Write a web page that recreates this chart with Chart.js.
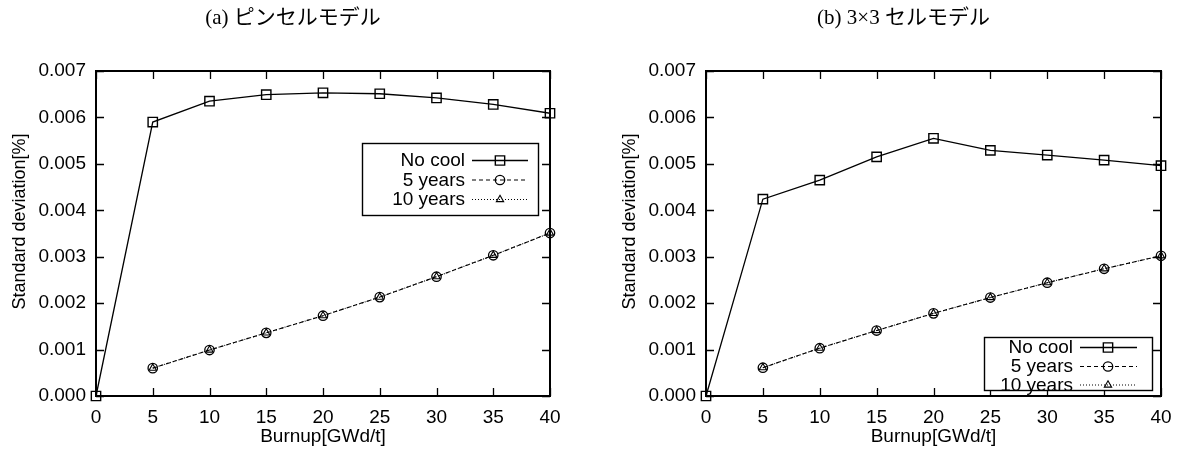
<!DOCTYPE html>
<html><head><meta charset="utf-8">
<script src="https://cdn.jsdelivr.net/npm/chart.js@4/dist/chart.umd.min.js"></script>
<style>
html,body{margin:0;padding:0;background:#fff;}
#wrap{position:relative;width:1185px;height:450px;overflow:hidden;}
.c{position:absolute;top:0;height:450px;}
canvas{display:block;}
</style></head><body>
<div id="wrap">
<div class="c" style="left:0;width:592px"><canvas id="ca" width="592" height="450"></canvas></div>
<div class="c" style="left:592px;width:593px"><canvas id="cb" width="593" height="450"></canvas></div>
</div>
<script>
// ---- data ----
const burnup = [0, 5, 10, 15, 20, 25, 30, 35, 40];
const xTicks = [0, 5, 10, 15, 20, 25, 30, 35, 40];
const yTicks = [0, 0.001, 0.002, 0.003, 0.004, 0.005, 0.006, 0.007];
const seriesNames = ['No cool', '5 years', '10 years'];
const titleA = '(a) ピンセルモデル';
const titleB = '(b) 3×3 セルモデル';
const xTitle = 'Burnup[GWd/t]';
const yTitle = 'Standard deviation[%]';

const pinNoCool = [0, 0.00590, 0.00635, 0.00649, 0.00653, 0.00651, 0.00642, 0.00628, 0.00609];
const pin5y     = [null, 0.00060, 0.00099, 0.00136, 0.00173, 0.00213, 0.00257, 0.00303, 0.00351];
const pin10y    = [null, 0.00060, 0.00099, 0.00136, 0.00173, 0.00213, 0.00257, 0.00303, 0.00351];

const cellNoCool = [0, 0.00424, 0.00465, 0.00515, 0.00555, 0.00529, 0.00519, 0.00508, 0.00496];
const cell5y     = [null, 0.00061, 0.00103, 0.00141, 0.00178, 0.00212, 0.00244, 0.00274, 0.00302];
const cell10y    = [null, 0.00061, 0.00103, 0.00141, 0.00178, 0.00212, 0.00244, 0.00274, 0.00302];

// ---- helpers ----
const SANS = "'Liberation Sans', Arial, sans-serif";
function pts(arr) {
  const out = [];
  burnup.forEach((x, i) => { if (arr[i] !== null && arr[i] !== undefined) out.push({x: x, y: arr[i]}); });
  return out;
}
function makeDatasets(a, b, c) {
  return [
    {label: seriesNames[0], data: pts(a), borderColor: '#000', borderWidth: 1.3, borderDash: [],
     pointStyle: 'rect', pointRadius: 6.6, pointBorderWidth: 1.4, pointBorderColor: '#000',
     pointBackgroundColor: 'rgba(0,0,0,0)', tension: 0, clip: false},
    {label: seriesNames[1], data: pts(b), borderColor: '#000', borderWidth: 1.1, borderDash: [4, 3],
     pointStyle: 'circle', pointRadius: 4.7, pointBorderWidth: 1.3, pointBorderColor: '#000',
     pointBackgroundColor: 'rgba(0,0,0,0)', tension: 0, clip: false},
    {label: seriesNames[2], data: pts(c), borderColor: '#000', borderWidth: 1.1, borderDash: [1, 2],
     pointStyle: 'triangle', pointRadius: 4.2, pointBorderWidth: 1.1, pointBorderColor: '#000',
     pointBackgroundColor: 'rgba(0,0,0,0)', tension: 0, clip: false}
  ];
}

const frameTicks = {
  id: 'frameTicks',
  beforeDatasetsDraw(chart) {
    const {ctx, chartArea: a, scales: {x, y}} = chart;
    ctx.save();
    ctx.strokeStyle = '#000';
    ctx.setLineDash([]);
    ctx.lineWidth = 1.3;
    ctx.beginPath();
    xTicks.forEach(v => {
      const px = Math.round(x.getPixelForValue(v)) + 0.5;
      ctx.moveTo(px, a.bottom); ctx.lineTo(px, a.bottom - 8);
      ctx.moveTo(px, a.top); ctx.lineTo(px, a.top + 8);
    });
    yTicks.forEach(v => {
      const py = Math.round(y.getPixelForValue(v)) + 0.5;
      ctx.moveTo(a.left, py); ctx.lineTo(a.left + 8, py);
      ctx.moveTo(a.right, py); ctx.lineTo(a.right - 8, py);
    });
    ctx.stroke();
    ctx.lineWidth = 2;
    ctx.strokeRect(a.left, a.top, a.right - a.left, a.bottom - a.top);
    ctx.restore();
  }
};

const panelTitle = {
  id: 'panelTitle',
  afterDraw(chart, args, opts) {
    const {ctx, chartArea: a, scales: {y}} = chart;
    ctx.save();
    ctx.fillStyle = '#000';
    ctx.font = "21px 'Liberation Serif', 'Noto Sans CJK JP', serif";
    ctx.textAlign = 'center';
    ctx.textBaseline = 'middle';
    ctx.fillText(opts.text, (a.left + a.right) / 2 + opts.dx, opts.y);
    // y-axis title, slightly above centre as in the original
    ctx.font = '18px ' + SANS;
    ctx.translate(y.left + opts.yTitleX, (a.top + a.bottom) / 2 + opts.yTitleDy);
    ctx.rotate(-Math.PI / 2);
    ctx.fillText(yTitle, 0, 0);
    ctx.restore();
  }
};

const boxLegend = {
  id: 'boxLegend',
  afterDraw(chart, args, o) {
    const {ctx, chartArea: a} = chart;
    const left = a.right - o.right - o.w;
    const top = o.fromBottom ? a.bottom - o.bottom - o.h : a.top + o.top;
    ctx.save();
    ctx.fillStyle = '#fff';
    ctx.fillRect(left, top, o.w, o.h);
    ctx.strokeStyle = '#000';
    ctx.lineWidth = 1.4;
    ctx.setLineDash([]);
    ctx.strokeRect(left + 0.5, top + 0.5, o.w, o.h);
    ctx.font = '19px ' + SANS;
    ctx.textAlign = 'right';
    ctx.textBaseline = 'middle';
    chart.data.datasets.forEach((ds, i) => {
      const cy = top + o.rows[i];
      ctx.fillStyle = '#000';
      ctx.fillText(ds.label, left + o.textRight, cy + 1);
      ctx.beginPath();
      ctx.setLineDash(ds.borderDash);
      ctx.lineWidth = ds.borderWidth;
      ctx.moveTo(left + o.lineFrom, cy + 0.5);
      ctx.lineTo(left + o.lineTo, cy + 0.5);
      ctx.stroke();
      ctx.setLineDash([]);
      ctx.fillStyle = 'rgba(0,0,0,0)';
      ctx.lineWidth = ds.pointBorderWidth;
      Chart.helpers.drawPoint(ctx, {pointStyle: ds.pointStyle, radius: ds.pointRadius, rotation: 0,
        borderWidth: ds.pointBorderWidth}, left + o.marker, cy + 0.5);
    });
    ctx.restore();
  }
};

function makeChart(id, title, a, b, c, padLeft, padRight, legendOpts) {
  return new Chart(document.getElementById(id), {
    type: 'line',
    data: {datasets: makeDatasets(a, b, c)},
    options: {
      responsive: false,
      animation: false,
      layout: {padding: {left: padLeft, right: padRight, top: 71, bottom: 0}},
      plugins: {
        legend: {display: false},
        tooltip: {enabled: false},
        title: {display: false},
        panelTitle: {text: title, dx: -30, y: 18, yTitleX: 20, yTitleDy: -12},
        boxLegend: legendOpts
      },
      scales: {
        x: {
          type: 'linear', min: 0, max: 40,
          grid: {display: false},
          border: {display: false},
          afterFit: s => { s.height = 54; },
          afterBuildTicks: s => { s.ticks = xTicks.map(v => ({value: v})); },
          ticks: {color: '#000', padding: 2, font: {size: 19, family: SANS}, maxRotation: 0,
                  callback: v => String(v)},
          title: {display: true, text: xTitle, color: '#000', font: {size: 19, family: SANS},
                  padding: {top: 0, bottom: 2}}
        },
        y: {
          type: 'linear', min: 0, max: 0.007,
          grid: {display: false},
          border: {display: false},
          afterFit: s => { s.width = 96; },
          afterBuildTicks: s => { s.ticks = yTicks.map(v => ({value: v})); },
          ticks: {color: '#000', padding: 2, font: {size: 19, family: SANS},
                  callback: v => Number(v).toFixed(3)},
          title: {display: false, text: yTitle}
        }
      }
    },
    plugins: [frameTicks, panelTitle, boxLegend]
  });
}

makeChart('ca', titleA, pinNoCool, pin5y, pin10y, 0, 42,
  {fromBottom: false, top: 72, right: 12, w: 176, h: 72, rows: [17, 36.5, 56],
   textRight: 103, lineFrom: 110, lineTo: 166, marker: 138});
makeChart('cb', titleB, cellNoCool, cell5y, cell10y, 18, 24,
  {fromBottom: true, bottom: 6, right: 9, w: 168, h: 53, rows: [10, 29, 47.5],
   textRight: 89, lineFrom: 96, lineTo: 153, marker: 124});
</script>
</body></html>
